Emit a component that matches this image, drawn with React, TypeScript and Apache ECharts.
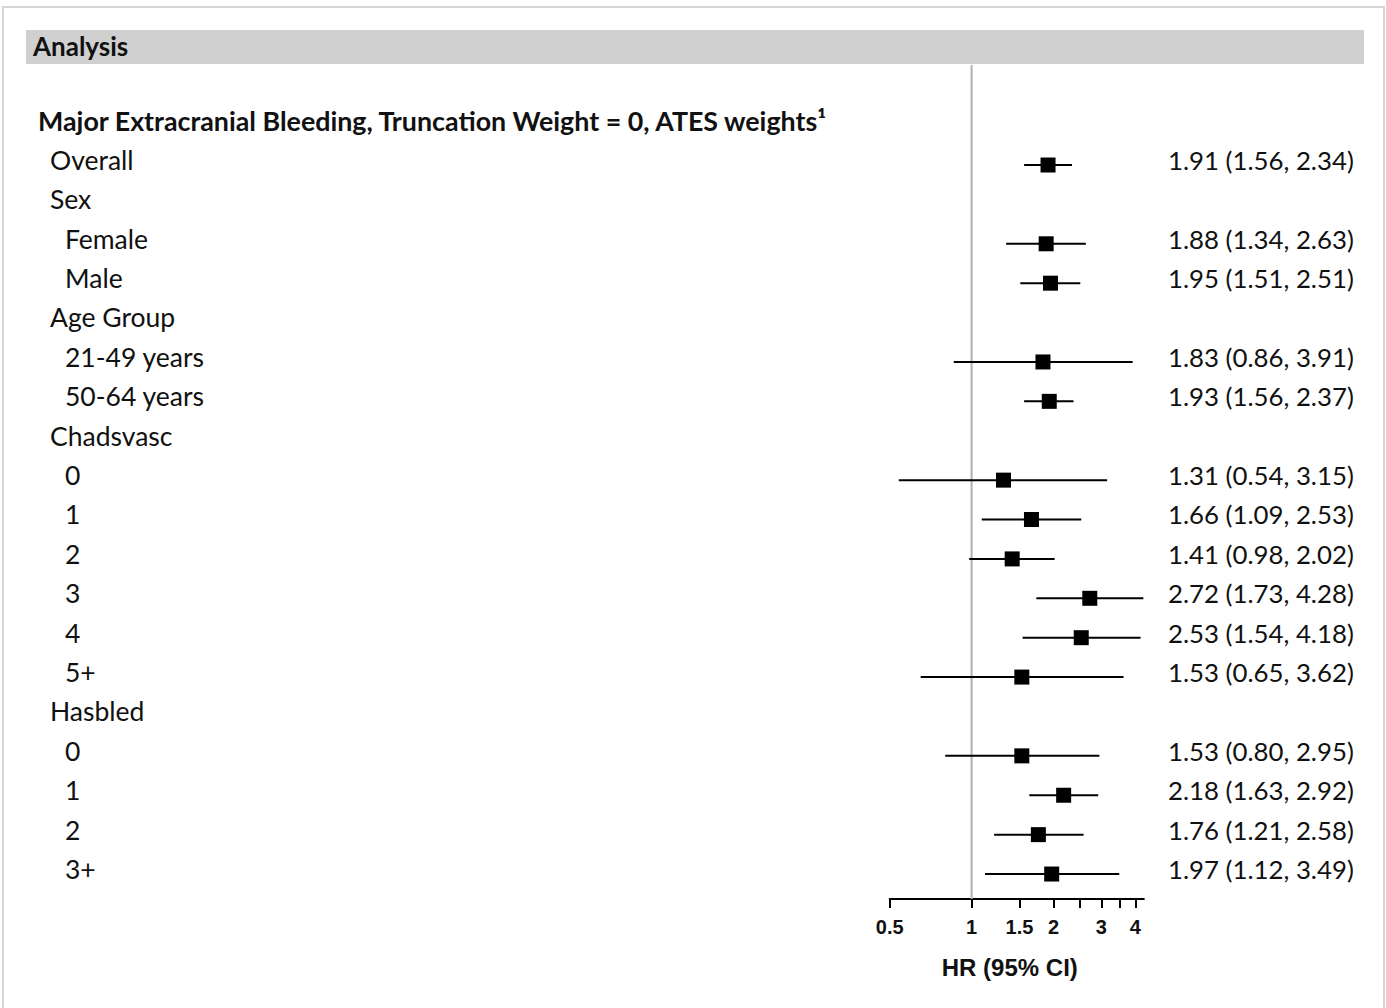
import React, { useEffect, useRef } from "react";
import * as echarts from "echarts";

// ---- data ----
const rowLabels = [
  "Major Extracranial Bleeding, Truncation Weight = 0, ATES weights¹",
  "Overall", "Sex", "Female", "Male", "Age Group", "21-49 years", "50-64 years",
  "Chadsvasc", "0", "1", "2", "3", "4", "5+", "Hasbled", "0", "1", "2", "3+",
];
const rowLevels = [0, 1, 1, 2, 2, 1, 2, 2, 1, 2, 2, 2, 2, 2, 2, 1, 2, 2, 2, 2];
const hr: (number | null)[] = [null, 1.91, null, 1.88, 1.95, null, 1.83, 1.93, null, 1.31, 1.66, 1.41, 2.72, 2.53, 1.53, null, 1.53, 2.18, 1.76, 1.97];
const lo: (number | null)[] = [null, 1.56, null, 1.34, 1.51, null, 0.86, 1.56, null, 0.54, 1.09, 0.98, 1.73, 1.54, 0.65, null, 0.80, 1.63, 1.21, 1.12];
const hi: (number | null)[] = [null, 2.34, null, 2.63, 2.51, null, 3.91, 2.37, null, 3.15, 2.53, 2.02, 4.28, 4.18, 3.62, null, 2.95, 2.92, 2.58, 3.49];
const tickValues = [0.5, 1, 1.5, 2, 2.5, 3, 3.5, 4];
const tickLabels = [0.5, 1, 1.5, 2, 3, 4];
const xMinHR = 0.5;
const xMaxHR = 4.3;
const refHR = 1;

const L2 = (v: number) => Math.log(v) / Math.LN2;

export default function App() {
  const ref = useRef<HTMLDivElement>(null);
  useEffect(() => {
    if (!ref.current) return;
    const chart = echarts.init(ref.current, null, { renderer: "svg" });

    const yMin = -1.539;
    const yMax = 19.634;
    const textShift = 0.13;
    const gridLeft = 889.7;
    const gridRight = 1386 - 1143.9;

    const dataRows: number[] = [];
    hr.forEach((v, i) => { if (v != null) dataRows.push(i); });

    const seriesData = dataRows.map((i) => [L2(hr[i] as number), L2(lo[i] as number), L2(hi[i] as number), i]);

    const textFont = "Lato";
    const rich = {
      t: { fontFamily: textFont, fontWeight: "bold" as const, fontSize: 26.8, color: "#111" },
      a: { fontFamily: textFont, fontSize: 26.5, color: "#111", padding: [0, 0, 0, 12] },
      b: { fontFamily: textFont, fontSize: 26.5, color: "#111", padding: [0, 0, 0, 27] },
    };
    const lvlKey = ["t", "a", "b"];

    chart.setOption({
      animation: false,
      backgroundColor: "#fff",
      graphic: [
        { type: "rect", shape: { x: 3, y: 7, width: 1381, height: 1010 }, style: { fill: "none", stroke: "#d6d6d6", lineWidth: 2 }, z: -10 },
        { type: "rect", shape: { x: 26, y: 30, width: 1338, height: 34 }, style: { fill: "#d0d0d0" }, z: -5 },
        { type: "text", x: 33, y: 46, style: { text: "Analysis", fontFamily: textFont, fontWeight: "bold", fontSize: 26, fill: "#111", verticalAlign: "middle", align: "left" }, z: 5 },
      ],
      grid: { left: gridLeft, right: gridRight, top: 65, bottom: 1008 - 899, containLabel: false },
      xAxis: {
        type: "value",
        min: L2(xMinHR),
        max: L2(xMaxHR),
        position: "bottom",
        splitLine: { show: false },
        axisLine: { show: true, onZero: false, lineStyle: { color: "#000", width: 2 } },
        axisTick: { show: true, customValues: tickValues.map(L2), length: 9, inside: false, lineStyle: { color: "#000", width: 2 } },
        axisLabel: {
          customValues: tickLabels.map(L2),
          formatter: (v: number) => String(+Math.pow(2, v).toFixed(2)),
          fontFamily: "Liberation Sans", fontWeight: "bold", fontSize: 20, color: "#111", margin: 18,
        },
        name: "HR (95% CI)",
        nameLocation: "middle",
        nameGap: 56,
        nameTextStyle: { fontFamily: "Liberation Sans", fontWeight: "bold", fontSize: 24, color: "#111", padding: [0, 14, 0, 0] },
      },
      yAxis: [
        {
          type: "value", min: yMin, max: yMax, inverse: true, position: "left",
          axisLine: { show: false }, axisTick: { show: false }, splitLine: { show: false },
          axisLabel: {
            customValues: rowLabels.map((_, i) => i - textShift),
            formatter: (v: number) => {
              const i = Math.round(v);
              return `{${lvlKey[rowLevels[i]]}|${rowLabels[i]}}`;
            },
            align: "left", margin: gridLeft - 38, rich,
          },
        },
        {
          type: "value", min: yMin, max: yMax, inverse: true, position: "right",
          axisLine: { show: false }, axisTick: { show: false }, splitLine: { show: false },
          axisLabel: {
            customValues: dataRows.map((i) => i - textShift),
            formatter: (v: number) => {
              const i = Math.round(v);
              return `${(hr[i] as number).toFixed(2)} (${(lo[i] as number).toFixed(2)}, ${(hi[i] as number).toFixed(2)})`;
            },
            align: "left", margin: 1168 - 1143.9,
            fontFamily: textFont, fontSize: 25.8, color: "#111",
          },
        },
      ],
      series: [
        {
          type: "line",
          data: [[L2(refHR), yMin], [L2(refHR), yMax]],
          symbol: "none",
          lineStyle: { color: "#aab2b6", width: 2 },
          z: 1,
          silent: true,
        },
        {
          type: "custom",
          data: seriesData,
          encode: { x: [0, 1, 2], y: 3 },
          z: 3,
          renderItem: (params: any, api: any) => {
            const y = api.value(3);
            const c = api.coord([api.value(0), y]);
            const a = api.coord([api.value(1), y]);
            const b = api.coord([api.value(2), y]);
            const s = 15;
            return {
              type: "group",
              children: [
                { type: "line", shape: { x1: a[0], y1: a[1], x2: b[0], y2: b[1] }, style: { stroke: "#000", lineWidth: 2 } },
                { type: "rect", shape: { x: c[0] - s / 2, y: c[1] - s / 2, width: s, height: s }, style: { fill: "#000" } },
              ],
            };
          },
        },
      ],
    });
    return () => chart.dispose();
  }, []);
  return <div ref={ref} style={{ position: "absolute", left: 0, top: 0, width: 1386, height: 1008 }} />;
}
